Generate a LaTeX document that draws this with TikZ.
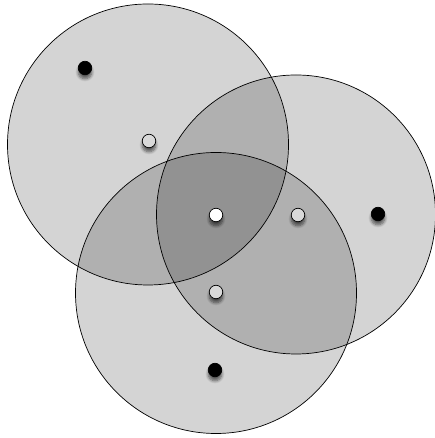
\documentclass[tikz,border=0pt]{standalone}
\usepackage{tikz}
\usetikzlibrary{shadows.blur}

\tikzset{
  area/.style={circle, draw, thin, fill=black, fill opacity=0.17, minimum size=5.62cm, inner sep=0pt},
  dot/.style={circle, draw, thin, minimum size=0.27cm, inner sep=0pt,
    blur shadow={shadow xshift=0pt, shadow yshift=-0.08cm, shadow blur steps=6, shadow opacity=60}},
}

\begin{document}
\begin{tikzpicture}
            \useasboundingbox (0,0) rectangle (8.68,8.76);
            \node[area] (c1) at (2.96,5.87) {};
            \node[area, minimum size=5.58cm] (c2) at (5.92,4.47) {};
            \node[area] (c3) at (4.32,2.90) {};
            \node[dot, fill=black!15] (m1) at (2.98,5.94) {};
            \node[dot, fill=black!15] (m2) at (5.96,4.46) {};
            \node[dot, fill=black!15] (m3) at (4.32,2.92) {};
            \node[dot, fill=white] (p) at (4.32,4.46) {};
            \node[dot, fill=black] (a1) at (1.70,7.40) {};
            \node[dot, fill=black] (a2) at (7.56,4.48) {};
            \node[dot, fill=black] (a3) at (4.30,1.36) {};
        \end{tikzpicture}
\end{document}
